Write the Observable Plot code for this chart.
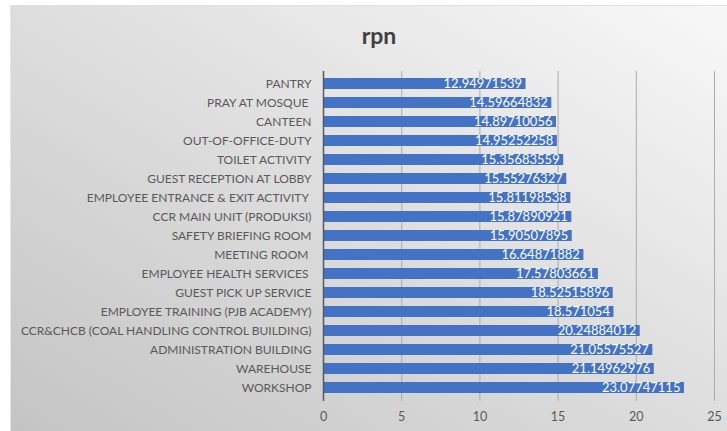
<!DOCTYPE html>
<html>
<head>
<meta charset="utf-8">
<script src="https://cdn.jsdelivr.net/npm/d3@7"></script>
<script src="https://cdn.jsdelivr.net/npm/@observablehq/plot@0.6"></script>
<style>
  html, body { margin: 0; padding: 0; background: #ffffff; width: 727px; height: 431px; overflow: hidden; }
  #chart {
    position: absolute; left: 10px; top: 5px; width: 717px; height: 426px;
    background: linear-gradient(to bottom left, #f8f8f8 0%, #e0e0e0 45%, #c4c4c4 100%);
    border-left: 1px solid #e6e6e6; border-top: 1px solid #e0e0e0;
    box-sizing: border-box;
  }
  #title {
    position: absolute; left: 0; width: 736px; top: 18px; text-align: center;
    font-family: Lato, "Open Sans", sans-serif; font-weight: bold; font-size: 23px; line-height: 22px; color: #404040;
  }
  #plot { position: absolute; left: -1px; top: 55px; }
  .ylab text { white-space: pre; }
</style>
</head>
<body>
<div id="chart">
  <div id="title">rpn</div>
  <div id="plot"></div>
</div>
<script>
const categories = [
  "PANTRY",
  "PRAY AT MOSQUE ",
  "CANTEEN",
  "OUT-OF-OFFICE-DUTY",
  "TOILET ACTIVITY",
  "GUEST RECEPTION AT LOBBY",
  "EMPLOYEE ENTRANCE & EXIT ACTIVITY ",
  "CCR MAIN UNIT (PRODUKSI)",
  "SAFETY BRIEFING ROOM",
  "MEETING ROOM ",
  "EMPLOYEE HEALTH SERVICES ",
  "GUEST PICK UP SERVICE",
  "EMPLOYEE TRAINING (PJB ACADEMY)",
  "CCR&CHCB (COAL HANDLING CONTROL BUILDING)",
  "ADMINISTRATION BUILDING",
  "WAREHOUSE",
  "WORKSHOP"
];
const values = [
  12.94971539, 14.59664832, 14.89710056, 14.95252258, 15.35683559,
  15.55276327, 15.81198538, 15.87890921, 15.90507895, 16.64871882,
  17.57803661, 18.52515896, 18.571054, 20.24884012, 21.05575527,
  21.14962976, 23.07747115
];
const valueLabels = [
  "12.94971539", "14.59664832", "14.89710056", "14.95252258", "15.35683559",
  "15.55276327", "15.81198538", "15.87890921", "15.90507895", "16.64871882",
  "17.57803661", "18.52515896", "18.571054", "20.24884012", "21.05575527",
  "21.14962976", "23.07747115"
];
const xTicks = [0, 5, 10, 15, 20, 25];

const data = categories.map((c, i) => ({ name: c, value: values[i], label: valueLabels[i] }));

const W = 717, H = 370;
const chart = Plot.plot({
  width: W,
  height: H,
  marginLeft: 313,
  marginRight: 13,
  marginTop: 10,
  marginBottom: 30,
  style: { background: "transparent", fontFamily: "Lato, 'Open Sans', sans-serif", overflow: "visible" },
  x: { domain: [0, 25], ticks: xTicks, label: null },
  y: { domain: categories, label: null, paddingInner: 0.42, paddingOuter: 0.21 },
  marks: [
    Plot.gridX(xTicks.slice(1), { stroke: "#acacac", strokeOpacity: 1, strokeWidth: 1 }),
    Plot.barX(data, { x: "value", y: "name", fill: "#4472c4" }),
    Plot.ruleX([0], { stroke: "#595959", strokeWidth: 1.5 }),
    Plot.text(data, { x: "value", y: "name", text: "label", textAnchor: "end", dx: -4, fill: "#ffffff", fontSize: 13 }),
    Plot.axisX(xTicks, { tickSize: 0, tickPadding: 11, fontSize: 12.5, color: "#595959" }),
    Plot.axisY({ tickSize: 0, tickPadding: 12, fontSize: 12, color: "#595959", className: "ylab" })
  ]
});
document.getElementById("plot").appendChild(chart);
</script>
</body>
</html>
